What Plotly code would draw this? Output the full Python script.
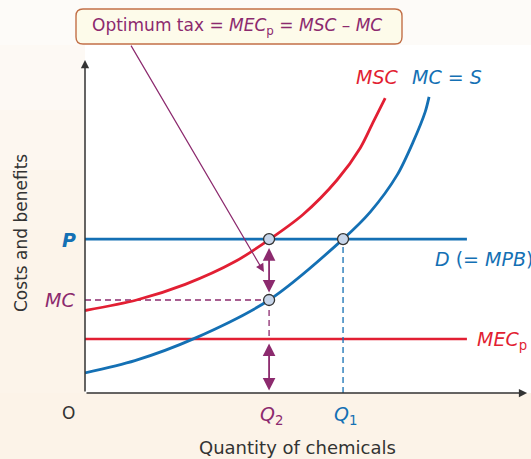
import plotly.graph_objects as go

# ---------------- data ----------------
q_mc = [0, 1.16, 2.56, 4.28, 6.0, 6.63, 7.26, 7.63, 7.91, 8.0]
c_mc = [0.67, 1.08, 1.83, 3.1, 5.13, 6.03, 7.27, 8.37, 9.37, 9.87]
q_msc = [0, 1.2, 2.33, 3.49, 4.3, 5.07, 5.86, 6.4, 6.7, 6.98]
c_msc = [2.75, 3.1, 3.62, 4.38, 5.13, 5.95, 7.1, 8.17, 9.03, 9.83]
price_p = 5.13
mec_p = 1.8
mc_at_q2 = 3.1
q1 = 6.0
q2 = 4.28
q_end = 8.88
x_max = 10.37
y_max = 11.6

BLUE = "#1470b4"
RED = "#e21f33"
PURPLE = "#8c2a6e"
DARK = "#333333"
CREAM = "#fcf3e8"
FONT = "DejaVu Sans, Open Sans, sans-serif"

W, H = 531, 459
ML, MR, MT, MB = 85, 0, 45, 66
PW, PH = W - ML - MR, H - MT - MB


def pxx(px):
    return (px - ML) / PW


def pxy(py):
    return (H - MB - py) / PH


fig = go.Figure()

# horizontal lines
fig.add_trace(go.Scatter(x=[0, q_end], y=[price_p, price_p], mode="lines",
                         line=dict(color=BLUE, width=2.6), hoverinfo="skip"))
fig.add_trace(go.Scatter(x=[0, q_end], y=[mec_p, mec_p], mode="lines",
                         line=dict(color=RED, width=2.6), hoverinfo="skip"))
# dashed guides
fig.add_trace(go.Scatter(x=[0, q2], y=[mc_at_q2, mc_at_q2], mode="lines",
                         line=dict(color=PURPLE, width=1.3, dash="6px,4px"), hoverinfo="skip"))
fig.add_trace(go.Scatter(x=[q2, q2], y=[mc_at_q2, mec_p], mode="lines",
                         line=dict(color=PURPLE, width=1.3, dash="6px,4px"), hoverinfo="skip"))
fig.add_trace(go.Scatter(x=[q1, q1], y=[0, price_p], mode="lines",
                         line=dict(color=BLUE, width=1.3, dash="6px,4px"), hoverinfo="skip"))
# curves
fig.add_trace(go.Scatter(x=q_msc, y=c_msc, mode="lines", line_shape="spline",
                         line=dict(color=RED, width=2.8, smoothing=0.8), hoverinfo="skip"))
fig.add_trace(go.Scatter(x=q_mc, y=c_mc, mode="lines", line_shape="spline",
                         line=dict(color=BLUE, width=2.8, smoothing=0.8), hoverinfo="skip"))
# points
fig.add_trace(go.Scatter(x=[q2, q1, q2], y=[price_p, price_p, mc_at_q2], mode="markers",
                         marker=dict(size=11, color="#c8d6ea", line=dict(color=DARK, width=1.3)),
                         hoverinfo="skip"))

ann = []
# axes with arrowheads
ann.append(dict(x=0, y=11.1, ax=0, ay=0, xref="x", yref="y", axref="x", ayref="y",
                text="", showarrow=True, arrowhead=2, arrowsize=1.1, arrowwidth=1.5,
                arrowcolor=DARK))
ann.append(dict(x=10.28, y=0, ax=0, ay=0, xref="x", yref="y", axref="x", ayref="y",
                text="", showarrow=True, arrowhead=2, arrowsize=1.1, arrowwidth=1.5,
                arrowcolor=DARK))
# double arrows
ann.append(dict(x=q2, y=mc_at_q2 + 0.25, ax=q2, ay=price_p - 0.25, xref="x", yref="y",
                axref="x", ayref="y", text="", showarrow=True, arrowhead=2, startarrowhead=2,
                arrowside="end+start", arrowsize=1.4, startarrowsize=1.4, arrowwidth=1.8,
                arrowcolor=PURPLE))
ann.append(dict(x=q2, y=0.08, ax=q2, ay=mec_p - 0.1, xref="x", yref="y",
                axref="x", ayref="y", text="", showarrow=True, arrowhead=2, startarrowhead=2,
                arrowside="end+start", arrowsize=1.4, startarrowsize=1.4, arrowwidth=1.8,
                arrowcolor=PURPLE))
# arrow from box
ann.append(dict(x=4.16, y=4.03, ax=1.05, ay=11.63, xref="x", yref="y",
                axref="x", ayref="y", text="", showarrow=True, arrowhead=2,
                arrowsize=1.4, arrowwidth=1.2, arrowcolor=PURPLE))


def label(px, py, text, size, color, xanchor="center", angle=0):
    ann.append(dict(x=pxx(px), y=pxy(py), xref="paper", yref="paper", showarrow=False,
                    text=text, textangle=angle, xanchor=xanchor, yanchor="middle",
                    font=dict(family=FONT, size=size, color=color)))


# box text
label(237, 26, "Optimum tax = <i>MEC</i><sub>p</sub> = <i>MSC</i> – <i>MC</i>", 17, PURPLE)
# curve labels
label(354, 77, "<i>MSC</i>", 19, RED, xanchor="left")
label(410, 77, "<i>MC</i> = <i>S</i>", 19, BLUE, xanchor="left")
label(433, 259, "<i>D</i> (= <i>MPB</i>)", 19, BLUE, xanchor="left")
label(475, 340, "<i>MEC</i><sub>p</sub>", 19, RED, xanchor="left")
# axis labels
label(69, 240, "<b><i>P</i></b>", 19, BLUE)
label(60, 300, "<i>MC</i>", 19, PURPLE)
label(68, 413, "O", 17, DARK)
label(271, 415, "<i>Q</i><sub>2</sub>", 19, PURPLE)
label(345, 415, "<i>Q</i><sub>1</sub>", 19, BLUE)
label(297, 447, "Quantity of chemicals", 18, DARK)
label(21, 233, "Costs and benefits", 17, DARK, angle=-90)

shapes = []
# background gradient in margins (outside plot area)
bands = ["#fdfbf8", "#fdf9f4", "#fdf7f0", "#fcf5ec", "#fcf4ea"]
band_edges = [0, 45, 110, 170, 230, 459]
for i in range(len(band_edges) - 1):
    col = bands[min(i, len(bands) - 1)]
    y0, y1 = band_edges[i], band_edges[i + 1]
    if i == 0:
        shapes.append(dict(type="rect", xref="paper", yref="paper", x0=pxx(0), x1=pxx(W),
                           y0=pxy(y1), y1=pxy(y0), fillcolor=col, line_width=0, layer="below"))
    else:
        shapes.append(dict(type="rect", xref="paper", yref="paper", x0=pxx(0), x1=0,
                           y0=pxy(min(y1, H - MB)), y1=pxy(y0), fillcolor=col, line_width=0,
                           layer="below"))
# rounded box
bx0, bx1, by0, by1, r = pxx(76), pxx(402), pxy(44), pxy(9), 7
rx, ry = r / PW, r / PH
path = (f"M {bx0+rx},{by0} L {bx1-rx},{by0} Q {bx1},{by0} {bx1},{by0+ry} "
        f"L {bx1},{by1-ry} Q {bx1},{by1} {bx1-rx},{by1} L {bx0+rx},{by1} "
        f"Q {bx0},{by1} {bx0},{by1-ry} L {bx0},{by0+ry} Q {bx0},{by0} {bx0+rx},{by0} Z")
shapes.append(dict(type="path", xref="paper", yref="paper", path=path,
                   fillcolor="#fdfbea", line=dict(color="#c27048", width=1.4), layer="below"))

fig.update_layout(
    width=W, height=H,
    margin=dict(l=ML, r=MR, t=MT, b=MB),
    paper_bgcolor=CREAM, plot_bgcolor="white",
    showlegend=False,
    xaxis=dict(range=[0, x_max], visible=False, fixedrange=True),
    yaxis=dict(range=[0, y_max], visible=False, fixedrange=True),
    annotations=ann, shapes=shapes,
)

fig.write_html("out.html", config={"displayModeBar": False},
               post_script="document.body.style.margin='0';document.body.style.overflow='hidden';")
